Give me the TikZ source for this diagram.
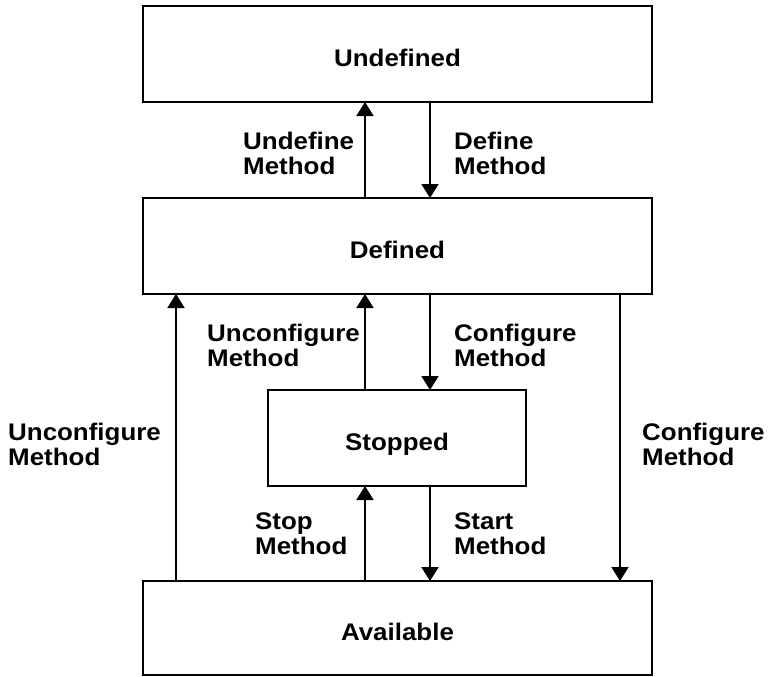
\documentclass[tikz,border=0pt]{standalone}
\usepackage{fontspec}
\setmainfont{Liberation Sans}[FakeStretch=1.08]
\usetikzlibrary{arrows.meta}
\begin{document}
\begin{tikzpicture}[x=1pt,y=-1pt,
  state/.style={draw, line width=2.6pt, minimum height=96pt, inner sep=0pt, outer sep=0pt,
    text height=25.5pt, text depth=0pt, font=\fontsize{24}{25}\selectfont\bfseries},
  wide/.style={state, minimum width=509pt},
  trans/.style={line width=1.8pt, -{Triangle[width=17pt,length=14pt]}},
  lbl/.style={anchor=west, align=left, inner sep=0pt, font=\fontsize{24}{25}\selectfont\bfseries}]
\useasboundingbox (0,0) rectangle (769,677);

% states
\node[wide] (undef) at (397.5,54) {Undefined};
\node[wide] (def) at (397.5,246) {Defined};
\node[state, minimum width=258pt] (stop) at (397,438) {Stopped};
\node[wide, minimum height=94pt] (avail) at (397.5,628) {Available};

% columns of the transition arrows
\coordinate (cl) at (365,0);
\coordinate (cr) at (430,0);
\coordinate (ol) at (176,0);
\coordinate (or) at (620,0);

% transitions
\draw[trans] (def.north -| cl) -- (undef.south -| cl);
\draw[trans] (undef.south -| cr) -- (def.north -| cr);
\draw[trans] (avail.north -| ol) -- (def.south -| ol);
\draw[trans] (def.south -| or) -- (avail.north -| or);
\draw[trans] (stop.north -| cl) -- (def.south -| cl);
\draw[trans] (def.south -| cr) -- (stop.north -| cr);
\draw[trans] (avail.north -| cl) -- (stop.south -| cl);
\draw[trans] (stop.south -| cr) -- (avail.north -| cr);

% method labels
\node[lbl] (l1) at (243,153) {Undefine\\Method};
\node[lbl] (l2) at (454,153) {Define\\Method};
\node[lbl] (l3) at (207,345) {Unconfigure\\Method};
\node[lbl] (l4) at (454,345) {Configure\\Method};
\node[lbl] (l5) at (8,444) {Unconfigure\\Method};
\node[lbl] (l6) at (642,444) {Configure\\Method};
\node[lbl] (l7) at (255,534) {Stop\\Method};
\node[lbl] (l8) at (454,534) {Start\\Method};
\end{tikzpicture}
\end{document}
